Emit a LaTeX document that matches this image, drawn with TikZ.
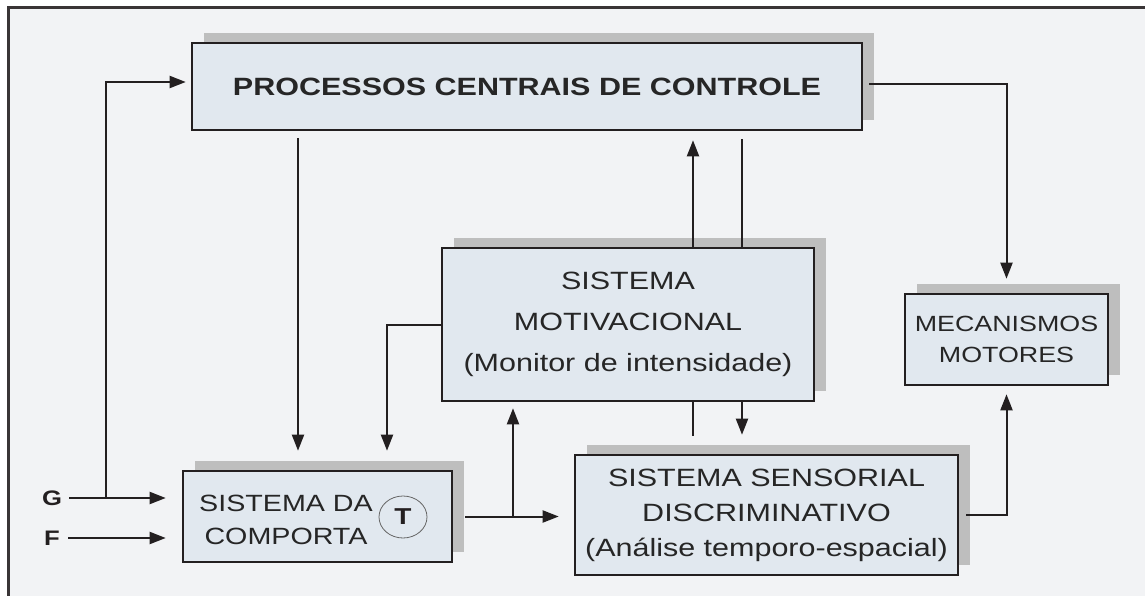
\documentclass[tikz,border=0pt]{standalone}
\usepackage{fontspec}
\setmainfont{Liberation Sans}[FakeStretch=1.22]
\usetikzlibrary{shapes, arrows.meta, positioning, shadows}

\definecolor{bgpanel}{HTML}{F2F3F5}
\definecolor{boxfill}{HTML}{E1E8EF}
\definecolor{shadowgray}{HTML}{BEBEBE}
\definecolor{inkdark}{HTML}{231F20}

\begin{document}
\begin{tikzpicture}[
		x=1pt, y=-1pt,
		box/.style={rectangle, draw=inkdark, line width=2.6pt, fill=boxfill, align=center, text=black!85, general shadow={fill=shadowgray, shadow xshift=12pt, shadow yshift=10pt}},
		arr/.style={-{Triangle[length=16pt, width=12pt]}, line width=2pt, draw=inkdark},
		link/.style={line width=2pt, draw=inkdark},
		tag/.style={font=\bfseries\fontsize{21}{23}\selectfont, text=inkdark}
		]
		\useasboundingbox (0,0) rectangle (1145,596);
		\clip (0,0) rectangle (1145,596);
		\fill[white] (0,0) rectangle (1145,596);
		\draw[line width=2.5pt, draw=inkdark!90, fill=bgpanel] (8.5,7.5) rectangle (1160,610);
		
		% Control layer
		\node[box, minimum width=670, minimum height=87, font=\bfseries\fontsize{25}{30}\selectfont] (pcc) at (527,86.5) {PROCESSOS CENTRAIS DE CONTROLE};
		
		% Motivational and motor
		\node[box, minimum width=372, minimum height=153, font=\fontsize{25}{41}\selectfont] (motiv) at (628,324.5) {SISTEMA\\MOTIVACIONAL\\(Monitor de intensidade)};
		\node[box, minimum width=203, minimum height=91, font=\fontsize{22}{31}\selectfont] (motor) at (1006.5,339.5) {MECANISMOS\\MOTORES};
		
		% Gate and sensory
		\node[box, minimum width=269, minimum height=91] (gate) at (317.5,516.5) {};
		\node[align=center, font=\fontsize{23.5}{33}\selectfont, text=black!85] (gatetxt) at (286,519.5) {SISTEMA DA\\COMPORTA};
		\node[ellipse, draw=black!60, line width=0.8pt, minimum width=48, minimum height=42, inner sep=0pt, font=\bfseries\fontsize{23}{25}\selectfont, text=inkdark] (tmark) at (403,517) {T};
		\node[box, minimum width=383, minimum height=120, font=\fontsize{25}{35}\selectfont] (sens) at (766.5,515) {SISTEMA SENSORIAL\\DISCRIMINATIVO\\(Análise temporo-espacial)};
		
		% Inputs
		\node[tag] (glbl) at (52,498) {G};
		\node[tag] (flbl) at (52,538) {F};
		
		% Columns of the vertical links
		\coordinate (c1) at (298,0);
		\coordinate (c2) at (387,0);
		\coordinate (c3) at (513,0);
		\coordinate (c4) at (693,0);
		\coordinate (c5) at (742,0);
		\coordinate (gsplit) at (106,498);
		
		% Connect them
		\draw[arr, shorten <=4pt, shorten >=16pt] (glbl.east) -- (gate.west |- glbl);
		\draw[arr, shorten <=5pt, shorten >=16pt] (flbl.east) -- (gate.west |- flbl);
		\draw[arr, shorten >=5pt] (gsplit) |- ([yshift=4.5pt]pcc.west);
		\draw[arr, shorten <=7pt, shorten >=19pt] (pcc.south -| c1) -- (gate.north -| c1);
		\draw[arr, shorten >=19pt] (motiv.west) -| (gate.north -| c2);
		\draw[arr, shorten <=12pt, shorten >=15pt] (gate.east) -- (sens.west |- gate.east);
		\draw[arr, shorten >=6pt] (gate.east -| c3) -- (motiv.south -| c3);
		\draw[arr, shorten >=9pt] (motiv.north -| c4) -- (pcc.south -| c4);
		\draw[link, shorten <=18pt] (sens.north -| c4) -- (motiv.south -| c4);
		\draw[link, shorten <=8pt] (pcc.south -| c5) -- (motiv.north -| c5);
		\draw[arr, shorten >=19pt] (motiv.south -| c5) -- (sens.north -| c5);
		\draw[arr, shorten <=7pt, shorten >=8pt] (sens.east) -| (motor.south);
		\draw[arr, shorten <=6pt, shorten >=14pt] ([yshift=2.5pt]pcc.east) -| (motor.north);
	\end{tikzpicture}
\end{document}
